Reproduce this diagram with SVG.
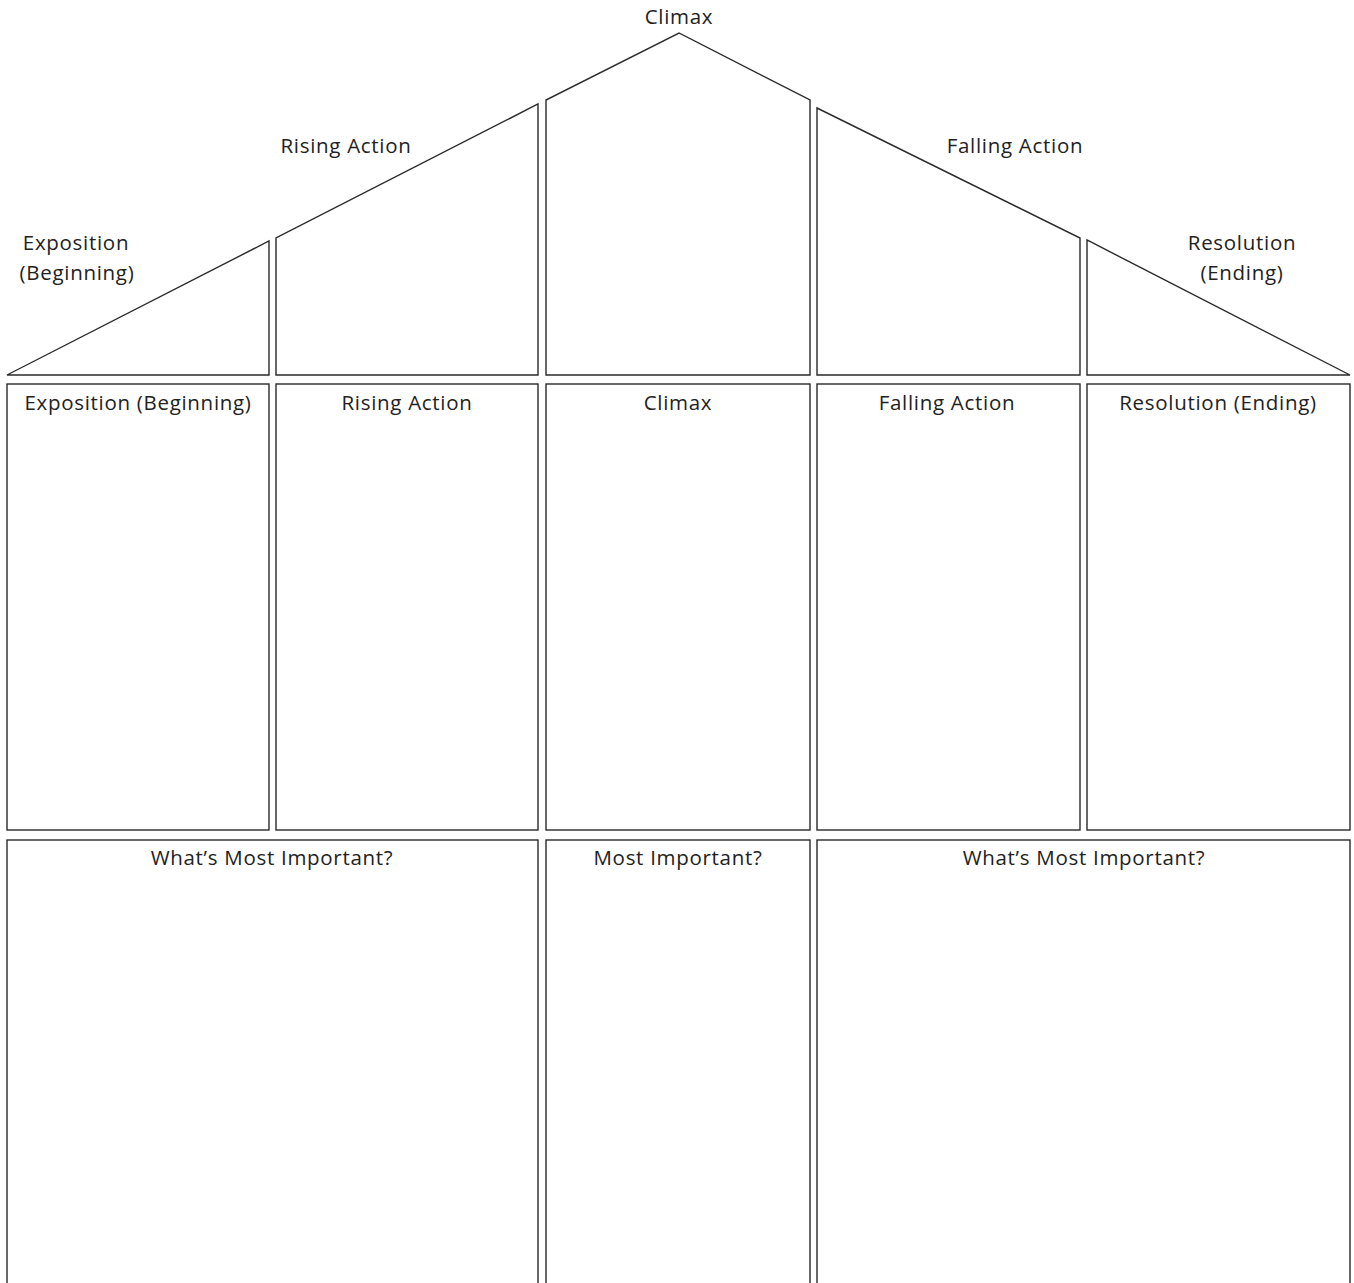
<svg xmlns="http://www.w3.org/2000/svg" width="1354" height="1283" viewBox="0 0 1354 1283">
<style>
.s{fill:#fff;stroke:#2a2a2a;stroke-width:1.4;stroke-linejoin:miter}
.t{font-family:"Open Sans","Liberation Sans",sans-serif;font-size:20.5px;letter-spacing:0.7px;fill:#222;text-anchor:middle}
</style>
<rect width="1354" height="1283" fill="#fff"/>
<g id="roof">
<g id="roof-exposition"><polygon class="s" points="7,375 269,241 269,375"/></g>
<g id="roof-rising"><polygon class="s" points="276,375 276,238 538,104 538,375"/></g>
<g id="roof-climax"><polygon class="s" points="546,375 546,100 679,33 810,100 810,375"/></g>
<g id="roof-falling"><polygon class="s" points="817,375 817,108 1080,238 1080,375"/></g>
<g id="roof-resolution"><polygon class="s" points="1087,375 1087,240 1350,375"/></g>
</g>
<g id="roof-labels">
<text class="t" x="679" y="24">Climax</text>
<text class="t" x="346" y="153">Rising Action</text>
<text class="t" x="1015" y="153">Falling Action</text>
<text class="t" x="76" y="250">Exposition</text>
<text class="t" x="77" y="280">(Beginning)</text>
<text class="t" x="1242" y="250">Resolution</text>
<text class="t" x="1242" y="280">(Ending)</text>
</g>
<g id="row-middle">
<g id="box-exposition"><rect class="s" x="7" y="384" width="262" height="446"/><text class="t" x="138" y="410">Exposition (Beginning)</text></g>
<g id="box-rising"><rect class="s" x="276" y="384" width="262" height="446"/><text class="t" x="407" y="410">Rising Action</text></g>
<g id="box-climax"><rect class="s" x="546" y="384" width="264" height="446"/><text class="t" x="678" y="410">Climax</text></g>
<g id="box-falling"><rect class="s" x="817" y="384" width="263" height="446"/><text class="t" x="947" y="410">Falling Action</text></g>
<g id="box-resolution"><rect class="s" x="1087" y="384" width="263" height="446"/><text class="t" x="1218" y="410">Resolution (Ending)</text></g>
</g>
<g id="row-bottom">
<g id="box-important-left"><rect class="s" x="7" y="840" width="531" height="460"/><text class="t" x="272" y="865">What’s Most Important?</text></g>
<g id="box-important-center"><rect class="s" x="546" y="840" width="264" height="460"/><text class="t" x="678" y="865">Most Important?</text></g>
<g id="box-important-right"><rect class="s" x="817" y="840" width="533" height="460"/><text class="t" x="1084" y="865">What’s Most Important?</text></g>
</g>
<g id="connectors"/>
</svg>
